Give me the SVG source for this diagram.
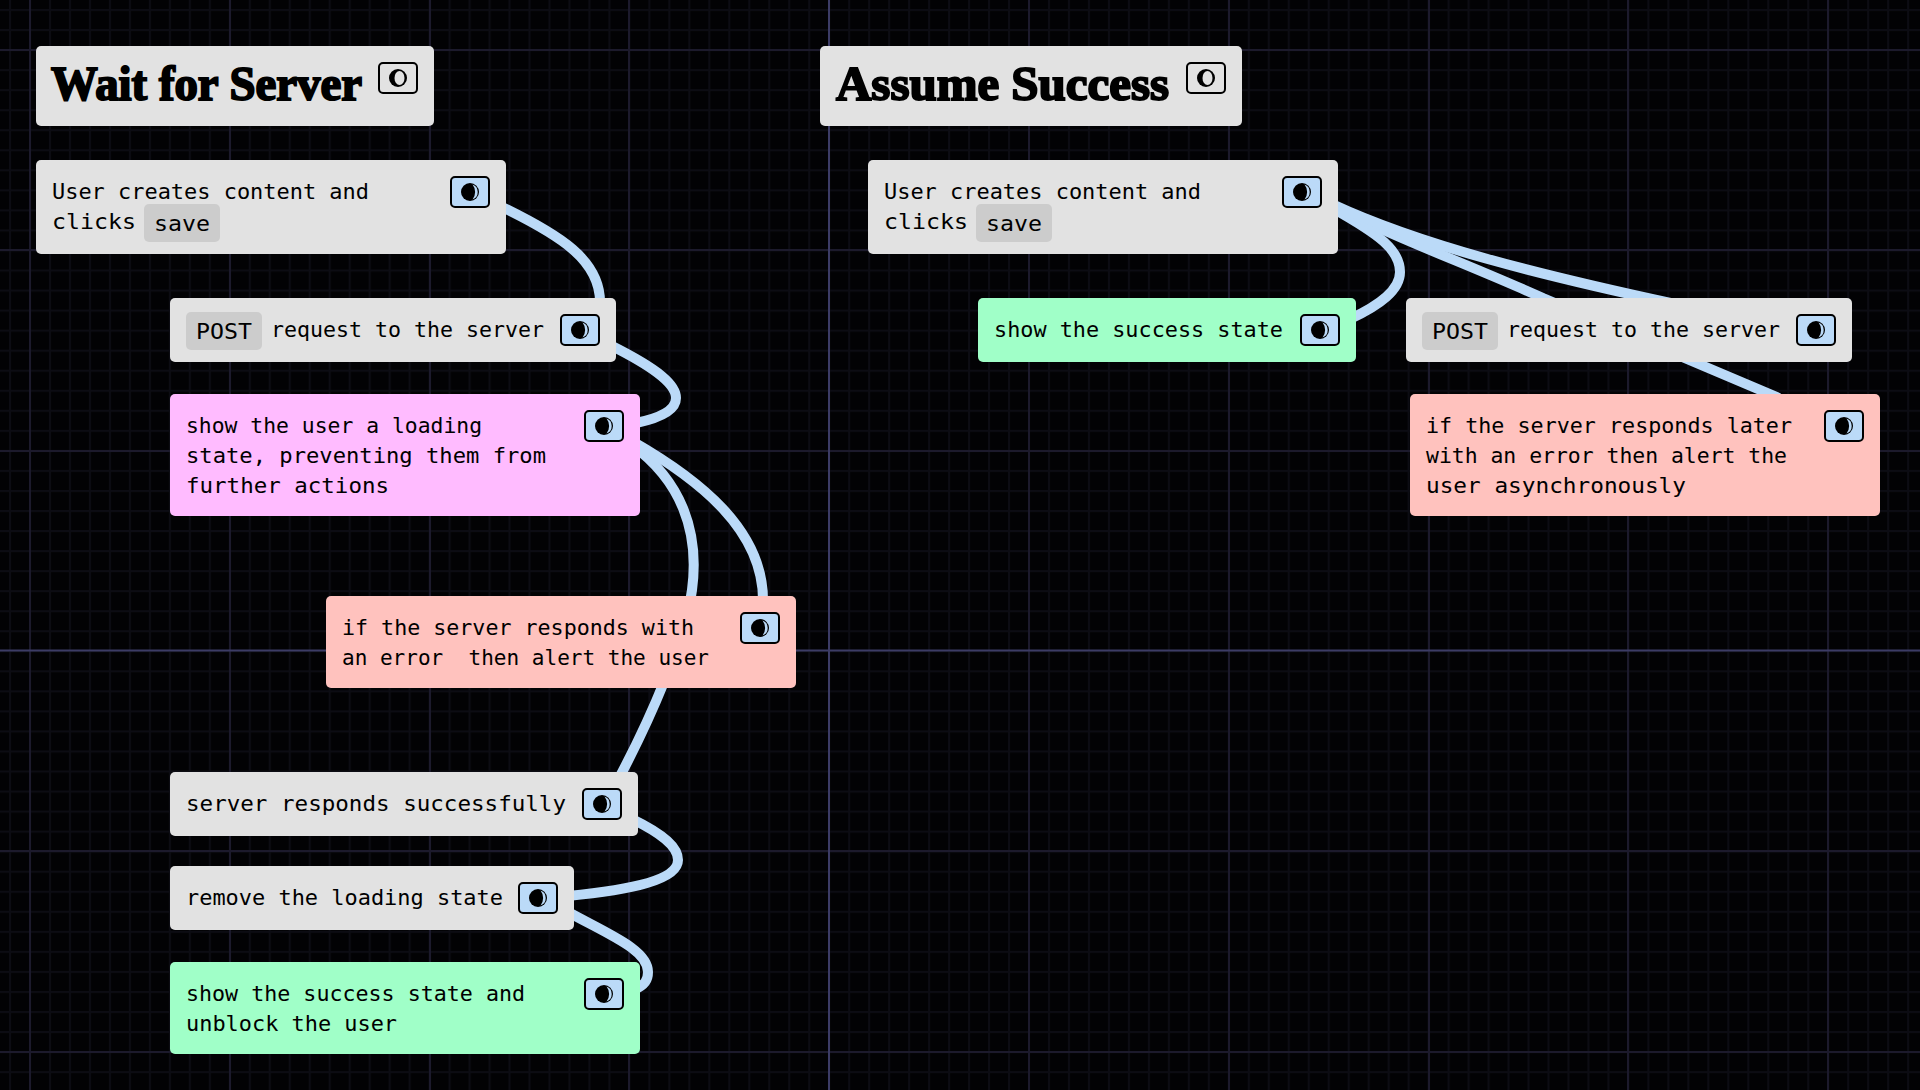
<svg xmlns="http://www.w3.org/2000/svg" width="1920" height="1090" viewBox="0 0 1920 1090">
<style>
.n{fill:#e2e2e2}.p{fill:#ffbbff}.e{fill:#ffc2be}.g{fill:#a0ffc8}
.t{font-family:"DejaVu Sans Mono","Liberation Mono",monospace;font-size:22px;fill:#000;white-space:pre}
.h{font-family:"Liberation Serif","DejaVu Serif",serif;font-weight:700;font-size:48px;fill:#000;stroke:#000;stroke-width:2px}
.c{fill:#cccccc}
.b{fill:#bbdaf8;stroke:#000;stroke-width:2}
.b0{fill:none;stroke:#000;stroke-width:2}
.x{fill:none;stroke:#bbdaf8;stroke-width:10}
</style>
<defs>
<pattern id="mv" width="19.98" height="20" patternUnits="userSpaceOnUse" x="9"><rect width="2" height="20" fill="#0c0c13"/></pattern>
<pattern id="mh" width="20" height="20.04" patternUnits="userSpaceOnUse" y="9"><rect width="20" height="2" fill="#0c0c13"/></pattern>
<g id="i"><rect x="-19" y="-15" width="38" height="30" rx="4" class="b"/><circle r="9" fill="#000"/><path d="M2.500 -7.500A8 8 0 0 1 2.500 7.500A12 12 0 0 0 2.500 -7.500Z" fill="#bbdaf8"/></g>
<g id="i0"><rect x="-19" y="-15" width="38" height="30" rx="4" class="b0"/><circle r="9" fill="#000"/><ellipse cx="1.500" cy="0" rx="5" ry="7" fill="#e2e2e2"/></g>
</defs>
<rect id="background" width="1920" height="1090" fill="#020204"/>
<g id="grid">
<rect width="1920" height="1090" fill="url(#mv)"/>
<rect width="1920" height="1090" fill="url(#mh)"/>
<path d="M30 0V1090M230 0V1090M430 0V1090M629 0V1090M1029 0V1090M1229 0V1090M1429 0V1090M1628 0V1090M1828 0V1090M0 50H1920M0 250H1920M0 451H1920M0 851H1920M0 1052H1920" fill="none" stroke="#1c1a2c" stroke-width="2"/>
<path d="M829 0V1090M0 650.500H1920" fill="none" stroke="#3c3c66" stroke-width="2"/>
</g>
<g id="connectors">
<path class="x" d="M500 206C560 235 600 260 600 302"/>
<path class="x" d="M610 345C660 370 676 385 676 398C676 410 660 418 636 423"/>
<path class="x" d="M632 441C700 480 763 530 763 600"/>
<path class="x" d="M632 445C680 480 700 530 692 590C685 640 650 720 618 780"/>
<path class="x" d="M632 819C665 835 678 848 678 860C678 880 630 890 568 896"/>
<path class="x" d="M568 912C610 935 648 950 648 972C648 980 645 985 634 990"/>
<path class="x" d="M1332 208C1380 235 1400 250 1400 272C1400 290 1380 305 1350 319"/>
<path class="x" d="M1332 206C1400 240 1470 265 1543 298L1779 398"/>
<path class="x" d="M1332 204C1420 245 1540 275 1675 304"/>
</g>
<g id="title-wait"><rect x="36" y="46" width="398" height="80" rx="5" class="n"/><text class="h" x="51" y="100" textLength="311" lengthAdjust="spacingAndGlyphs">Wait for Server</text><use href="#i0" x="398" y="78"/></g>
<g id="wait-create"><rect x="36" y="160" width="470" height="94" rx="5" class="n"/><rect x="144" y="204" width="76" height="38" rx="5" class="c"/><text class="t" x="52" y="199" textLength="317" lengthAdjust="spacingAndGlyphs">User creates content and</text><text class="t" x="52" y="229" textLength="84" lengthAdjust="spacingAndGlyphs">clicks</text><text class="t" x="154" y="231" textLength="56" lengthAdjust="spacingAndGlyphs">save</text><use href="#i" x="470" y="192"/></g>
<g id="wait-post"><rect x="170" y="298" width="446" height="64" rx="5" class="n"/><rect x="186" y="312" width="76" height="38" rx="5" class="c"/><text class="t" x="196" y="339" textLength="56" lengthAdjust="spacingAndGlyphs">POST</text><text class="t" x="271" y="337" textLength="273" lengthAdjust="spacingAndGlyphs">request to the server</text><use href="#i" x="580" y="330"/></g>
<g id="wait-loading"><rect x="170" y="394" width="470" height="122" rx="5" class="p"/><text class="t" x="186" y="433" textLength="296" lengthAdjust="spacingAndGlyphs">show the user a loading</text><text class="t" x="186" y="463" textLength="360" lengthAdjust="spacingAndGlyphs">state, preventing them from</text><text class="t" x="186" y="493" textLength="203" lengthAdjust="spacingAndGlyphs">further actions</text><use href="#i" x="604" y="426"/></g>
<g id="wait-error"><rect x="326" y="596" width="470" height="92" rx="5" class="e"/><text class="t" x="342" y="635" textLength="352" lengthAdjust="spacingAndGlyphs">if the server responds with</text><text class="t" x="342" y="665" textLength="367" lengthAdjust="spacingAndGlyphs">an error  then alert the user</text><use href="#i" x="760" y="628"/></g>
<g id="wait-responds"><rect x="170" y="772" width="468" height="64" rx="5" class="n"/><text class="t" x="186" y="811" textLength="380" lengthAdjust="spacingAndGlyphs">server responds successfully</text><use href="#i" x="602" y="804"/></g>
<g id="wait-remove"><rect x="170" y="866" width="404" height="64" rx="5" class="n"/><text class="t" x="186" y="905" textLength="317" lengthAdjust="spacingAndGlyphs">remove the loading state</text><use href="#i" x="538" y="898"/></g>
<g id="wait-success"><rect x="170" y="962" width="470" height="92" rx="5" class="g"/><text class="t" x="186" y="1001" textLength="339" lengthAdjust="spacingAndGlyphs">show the success state and</text><text class="t" x="186" y="1031" textLength="211" lengthAdjust="spacingAndGlyphs">unblock the user</text><use href="#i" x="604" y="994"/></g>
<g id="title-assume"><rect x="820" y="46" width="422" height="80" rx="5" class="n"/><text class="h" x="836" y="100" textLength="333" lengthAdjust="spacingAndGlyphs">Assume Success</text><use href="#i0" x="1206" y="78"/></g>
<g id="assume-create"><rect x="868" y="160" width="470" height="94" rx="5" class="n"/><rect x="976" y="204" width="76" height="38" rx="5" class="c"/><text class="t" x="884" y="199" textLength="317" lengthAdjust="spacingAndGlyphs">User creates content and</text><text class="t" x="884" y="229" textLength="84" lengthAdjust="spacingAndGlyphs">clicks</text><text class="t" x="986" y="231" textLength="56" lengthAdjust="spacingAndGlyphs">save</text><use href="#i" x="1302" y="192"/></g>
<g id="assume-success"><rect x="978" y="298" width="378" height="64" rx="5" class="g"/><text class="t" x="994" y="337" textLength="289" lengthAdjust="spacingAndGlyphs">show the success state</text><use href="#i" x="1320" y="330"/></g>
<g id="assume-post"><rect x="1406" y="298" width="446" height="64" rx="5" class="n"/><rect x="1422" y="312" width="76" height="38" rx="5" class="c"/><text class="t" x="1432" y="339" textLength="56" lengthAdjust="spacingAndGlyphs">POST</text><text class="t" x="1507" y="337" textLength="273" lengthAdjust="spacingAndGlyphs">request to the server</text><use href="#i" x="1816" y="330"/></g>
<g id="assume-error"><rect x="1410" y="394" width="470" height="122" rx="5" class="e"/><text class="t" x="1426" y="433" textLength="366" lengthAdjust="spacingAndGlyphs">if the server responds later</text><text class="t" x="1426" y="463" textLength="361" lengthAdjust="spacingAndGlyphs">with an error then alert the</text><text class="t" x="1426" y="493" textLength="260" lengthAdjust="spacingAndGlyphs">user asynchronously</text><use href="#i" x="1844" y="426"/></g>
</svg>
